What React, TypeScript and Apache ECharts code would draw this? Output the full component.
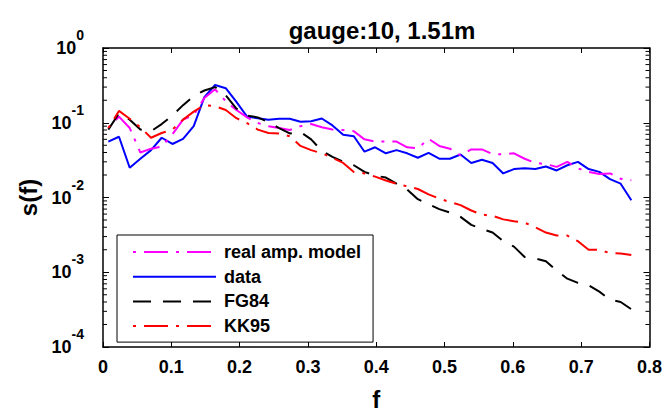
import React, { useEffect, useRef } from "react";
import * as echarts from "echarts";

const FONT = "'Liberation Sans', Arial, Helvetica, sans-serif";

const freq = [
  0.0078, 0.0234, 0.0391, 0.0547, 0.0703, 0.0859, 0.1016, 0.1172, 0.1328, 0.1484,
  0.1641, 0.1797, 0.1953, 0.2109, 0.2266, 0.2422, 0.2578, 0.2734, 0.2891, 0.3047,
  0.3203, 0.3359, 0.3516, 0.3672, 0.3828, 0.3984, 0.4141, 0.4297, 0.4453, 0.4609,
  0.4766, 0.4922, 0.5078, 0.5234, 0.5391, 0.5547, 0.5703, 0.5859, 0.6016, 0.6172,
  0.6328, 0.6484, 0.6641, 0.6797, 0.6953, 0.7109, 0.7266, 0.7422, 0.7578, 0.7734,
];

const realAmpModel = [
  0.085, 0.121, 0.085, 0.040, 0.045, 0.048, 0.070, 0.11, 0.127, 0.214,
  0.28, 0.194, 0.148, 0.118, 0.099, 0.09, 0.085, 0.08, 0.09, 0.096,
  0.087, 0.081, 0.08, 0.077, 0.06, 0.056, 0.056, 0.056, 0.047, 0.0455,
  0.061, 0.049, 0.045, 0.0365, 0.044, 0.044, 0.038, 0.038, 0.039, 0.033,
  0.029, 0.028, 0.0257, 0.030, 0.0245, 0.022, 0.0206, 0.021, 0.0178, 0.017,
];

const dataSeries = [
  0.056, 0.065, 0.025, 0.033, 0.043, 0.063, 0.052, 0.061, 0.09, 0.22,
  0.32, 0.29, 0.19, 0.121, 0.115, 0.11, 0.113, 0.113, 0.103, 0.105,
  0.114, 0.092, 0.069, 0.066, 0.041, 0.047, 0.039, 0.043, 0.039, 0.034,
  0.0395, 0.033, 0.033, 0.0376, 0.029, 0.032, 0.029, 0.021, 0.024, 0.0247,
  0.024, 0.026, 0.023, 0.027, 0.030, 0.024, 0.022, 0.0176, 0.0153, 0.0092,
];

const fg84 = [
  0.081, 0.134, 0.11, 0.081, 0.077, 0.096, 0.125, 0.172, 0.228, 0.27,
  0.30, 0.232, 0.155, 0.125, 0.118, 0.102, 0.085, 0.072, 0.075, 0.06,
  0.042, 0.035, 0.030, 0.027, 0.022, 0.0196, 0.0185, 0.0153, 0.0128, 0.0095,
  0.0081, 0.007, 0.0063, 0.0055, 0.0043, 0.0038, 0.0034, 0.0026, 0.0022, 0.0016,
  0.00153, 0.0014, 0.00105, 0.00082, 0.00072, 0.00067, 0.00055, 0.00043, 0.0004, 0.00032,
];

const kk95 = [
  0.085, 0.144, 0.113, 0.087, 0.063, 0.073, 0.081, 0.11, 0.141, 0.172,
  0.167, 0.148, 0.115, 0.099, 0.081, 0.073, 0.072, 0.066, 0.049, 0.043,
  0.039, 0.034, 0.029, 0.022, 0.021, 0.019, 0.0169, 0.0153, 0.0141, 0.013,
  0.011, 0.0097, 0.0087, 0.0079, 0.0067, 0.0059, 0.0057, 0.0051, 0.0048, 0.0046,
  0.004, 0.0034, 0.0031, 0.0031, 0.0026, 0.002, 0.002, 0.0018, 0.00178, 0.0017,
];

const seriesNames = ["real amp. model", "data", "FG84", "KK95"];
const decades = [1e-4, 1e-3, 1e-2, 1e-1];
const minorMultipliers = [2, 3, 4, 5, 6, 7, 8, 9];

const zip = (ys: number[]) => freq.map((f, i) => [f, ys[i]]);

export default function App() {
  const ref = useRef<HTMLDivElement>(null);
  useEffect(() => {
    if (!ref.current) return;
    const chart = echarts.init(ref.current, undefined, { renderer: "svg" });
    const minorTicks: number[][] = [];
    decades.forEach((d) => minorMultipliers.forEach((m) => minorTicks.push([0, d * m])));

    const axisLine = { show: true, onZero: false, lineStyle: { color: "#000", width: 1.5 } };
    const nameStyle = { fontSize: 24, fontWeight: "bold", color: "#000", fontFamily: FONT };
    const dashDot = [24, 8, 3, 8];

    const option: any = {
      animation: false,
      textStyle: { fontFamily: FONT },
      title: {
        text: "gauge:10, 1.51m",
        left: 377,
        top: 13,
        textAlign: "center",
        textStyle: { fontSize: 24, fontWeight: "bold", color: "#000", fontFamily: FONT },
      },
      grid: { left: 103, right: 14, top: 48, bottom: 61 },
      legend: {
        data: seriesNames,
        orient: "vertical",
        left: 117,
        top: 235,
        backgroundColor: "#fff",
        borderColor: "#000",
        borderWidth: 1,
        borderRadius: 0,
        padding: [8, 12, 7, 15],
        itemWidth: 83,
        itemHeight: 18,
        itemGap: 6.7,
        selectedMode: false,
        itemStyle: { opacity: 0 },
        textStyle: { fontSize: 18, fontWeight: "bold", color: "#000", fontFamily: FONT, padding: [0, 0, 0, 3] },
      },
      xAxis: [
        {
          type: "value",
          min: 0,
          max: 0.8,
          interval: 0.1,
          position: "bottom",
          axisLine,
          axisTick: { show: true, inside: true, length: 5, lineStyle: { color: "#000", width: 1 } },
          axisLabel: { fontSize: 18, fontWeight: "bold", color: "#000", margin: 11, fontFamily: FONT },
          splitLine: { show: false },
          name: "f",
          nameLocation: "middle",
          nameGap: 40,
          nameTextStyle: nameStyle,
        },
        {
          type: "value",
          min: 0,
          max: 0.8,
          interval: 0.1,
          position: "top",
          axisLine,
          axisTick: { show: true, inside: true, length: 5, lineStyle: { color: "#000", width: 1 } },
          axisLabel: { show: false },
          splitLine: { show: false },
        },
      ],
      yAxis: [
        {
          type: "log",
          logBase: 10,
          min: 1e-4,
          max: 1,
          interval: 1,
          position: "left",
          axisLine,
          axisTick: { show: true, inside: true, length: 6, lineStyle: { color: "#000", width: 1 } },
          axisLabel: {
            margin: 19,
            formatter: (v: number) => `{b|10}{s|${Math.round(Math.log10(v))}}`,
            rich: {
              b: { fontSize: 18, fontWeight: "bold", color: "#000", fontFamily: FONT, lineHeight: 40 },
              s: { fontSize: 14, fontWeight: "bold", color: "#000", fontFamily: FONT, lineHeight: 14, verticalAlign: "top" },
            },
          },
          splitLine: { show: false },
          name: "s(f)",
          nameLocation: "middle",
          nameGap: 61,
          nameRotate: 90,
          nameTextStyle: nameStyle,
        },
        {
          type: "log",
          logBase: 10,
          min: 1e-4,
          max: 1,
          interval: 1,
          position: "right",
          axisLine,
          axisTick: { show: true, inside: true, length: 6, lineStyle: { color: "#000", width: 1 } },
          axisLabel: { show: false },
          splitLine: { show: false },
        },
      ],
      series: [
        {
          name: "data",
          type: "line",
          data: zip(dataSeries),
          symbol: "none",
          lineStyle: { color: "#0000FF", width: 2 },
          itemStyle: { color: "#0000FF" },
          z: 3,
        },
        {
          name: "real amp. model",
          type: "line",
          data: zip(realAmpModel),
          symbol: "none",
          lineStyle: { color: "#FF00FF", width: 2, type: dashDot, dashOffset: 32 },
          itemStyle: { color: "#FF00FF" },
          z: 3,
        },
        {
          name: "FG84",
          type: "line",
          data: zip(fg84),
          symbol: "none",
          lineStyle: { color: "#000000", width: 2, type: [18, 12] },
          itemStyle: { color: "#000000" },
          z: 3,
        },
        {
          name: "KK95",
          type: "line",
          data: zip(kk95),
          symbol: "none",
          lineStyle: { color: "#FF0000", width: 2, type: dashDot, dashOffset: 32 },
          itemStyle: { color: "#FF0000" },
          z: 3,
        },
        {
          name: "minorTicks",
          type: "custom",
          silent: true,
          xAxisIndex: 0,
          yAxisIndex: 0,
          data: minorTicks,
          renderItem: (params: any, api: any) => {
            const y = api.coord([0, api.value(1)])[1];
            const cs = params.coordSys;
            return {
              type: "group",
              children: [
                { type: "line", shape: { x1: cs.x, y1: y, x2: cs.x + 4, y2: y }, style: { stroke: "#000", lineWidth: 1 } },
                {
                  type: "line",
                  shape: { x1: cs.x + cs.width - 4, y1: y, x2: cs.x + cs.width, y2: y },
                  style: { stroke: "#000", lineWidth: 1 },
                },
              ],
            };
          },
          z: 5,
        },
      ],
    };
    chart.setOption(option);
    return () => chart.dispose();
  }, []);
  return <div ref={ref} style={{ position: "absolute", left: 0, top: 0, width: 665, height: 416 }} />;
}
